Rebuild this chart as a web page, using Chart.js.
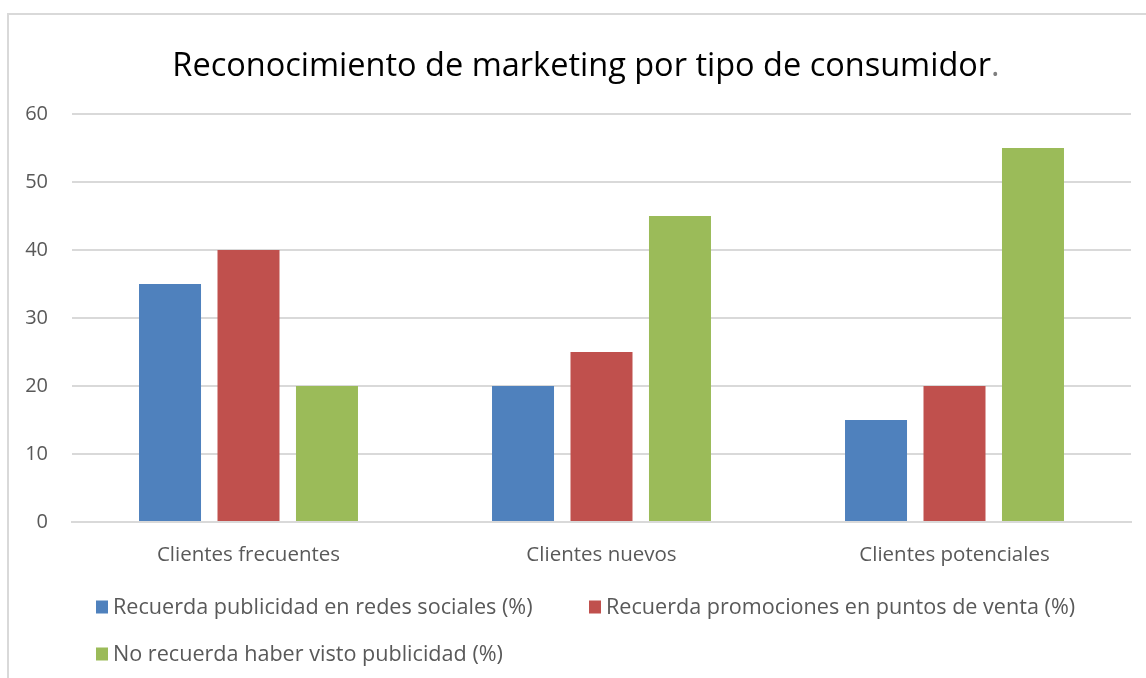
<!DOCTYPE html>
<html>
<head>
<meta charset="utf-8">
<script src="https://cdn.jsdelivr.net/npm/chart.js@4/dist/chart.umd.min.js"></script>
<style>
  html, body { margin: 0; padding: 0; background: #ffffff; }
  #wrap { position: relative; width: 1146px; height: 678px; overflow: hidden; }
  #frame { position: absolute; left: 7px; top: 13px; width: 1200px; height: 700px;
           border-top: 2px solid #d9d9d9; border-left: 2px solid #d9d9d9; box-sizing: border-box; pointer-events: none; }
  canvas { position: absolute; left: 0; top: 0; }
</style>
</head>
<body>
<div id="wrap">
  <canvas id="c" width="1146" height="678"></canvas>
  <div id="frame"></div>
</div>
<script>
const titleText = "Reconocimiento de marketing por tipo de consumidor";
const categories = ["Clientes frecuentes", "Clientes nuevos", "Clientes potenciales"];
const seriesNames = [
  "Recuerda publicidad en redes sociales (%)",
  "Recuerda promociones en puntos de venta (%)",
  "No recuerda haber visto publicidad (%)"
];
const redesSociales = [35, 20, 15];
const puntosVenta = [40, 25, 20];
const noRecuerda = [20, 45, 55];
const yTicks = [0, 10, 20, 30, 40, 50, 60];
const colors = ["#4F81BD", "#C0504D", "#9BBB59"];

const FONT = "'Open Sans', 'Noto Sans', sans-serif";
const TEXT = "#595959";

const titlePlugin = {
  id: 'twoToneTitle',
  afterDraw(chart) {
    const ctx = chart.ctx;
    ctx.save();
    ctx.font = "32.5px " + FONT;
    ctx.textBaseline = "alphabetic";
    const w1 = ctx.measureText(titleText).width;
    const w2 = ctx.measureText(".").width;
    const cx = 586;
    const x0 = cx - (w1 + w2) / 2;
    ctx.fillStyle = "#000000";
    ctx.textAlign = "left";
    ctx.fillText(titleText, x0, 76);
    ctx.fillStyle = "#7f7f7f";
    ctx.fillText(".", x0 + w1, 76);
    ctx.restore();
  }
};

const legendPlugin = {
  id: 'customLegend',
  afterDraw(chart) {
    const ctx = chart.ctx;
    const rows = [[0, 1], [2]];
    const rowY = [607, 654];
    const colX = [96, 589];
    ctx.save();
    ctx.font = "21.6px " + FONT;
    ctx.textBaseline = "middle";
    ctx.textAlign = "left";
    rows.forEach((row, r) => {
      row.forEach((di, c) => {
        const ds = chart.data.datasets[di];
        const x = colX[c];
        const y = rowY[r];
        ctx.fillStyle = ds.backgroundColor;
        ctx.fillRect(x, y - 6.5, 12, 13);
        ctx.fillStyle = TEXT;
        ctx.fillText(ds.label, x + 17, y + 0.5);
      });
    });
    ctx.restore();
  }
};

new Chart(document.getElementById('c'), {
  type: 'bar',
  data: {
    labels: categories,
    datasets: [
      { label: seriesNames[0], data: redesSociales, backgroundColor: colors[0] },
      { label: seriesNames[1], data: puntosVenta, backgroundColor: colors[1] },
      { label: seriesNames[2], data: noRecuerda, backgroundColor: colors[2] }
    ]
  },
  options: {
    responsive: false,
    animation: false,
    devicePixelRatio: 1,
    categoryPercentage: 0.667,
    barPercentage: 0.79,
    layout: { padding: { top: 114, right: 15, bottom: 100, left: 0 } },
    plugins: {
      legend: { display: false },
      title: { display: false },
      tooltip: { enabled: false }
    },
    scales: {
      x: {
        grid: { display: false, drawTicks: false },
        border: { display: true, color: "#d9d9d9", width: 2 },
        ticks: { color: TEXT, font: { family: FONT, size: 20.5 }, padding: 21 },
        afterFit(scale) { scale.height = 56; }
      },
      y: {
        min: 0, max: 60,
        afterBuildTicks(scale) { scale.ticks = yTicks.map(v => ({ value: v })); },
        grid: { color: "#d9d9d9", lineWidth: 2, drawTicks: false },
        border: { display: false },
        ticks: { color: TEXT, font: { family: FONT, size: 20 }, padding: 24 },
        afterFit(scale) { scale.width = 72; }
      }
    }
  },
  plugins: [titlePlugin, legendPlugin]
});
</script>
</body>
</html>
